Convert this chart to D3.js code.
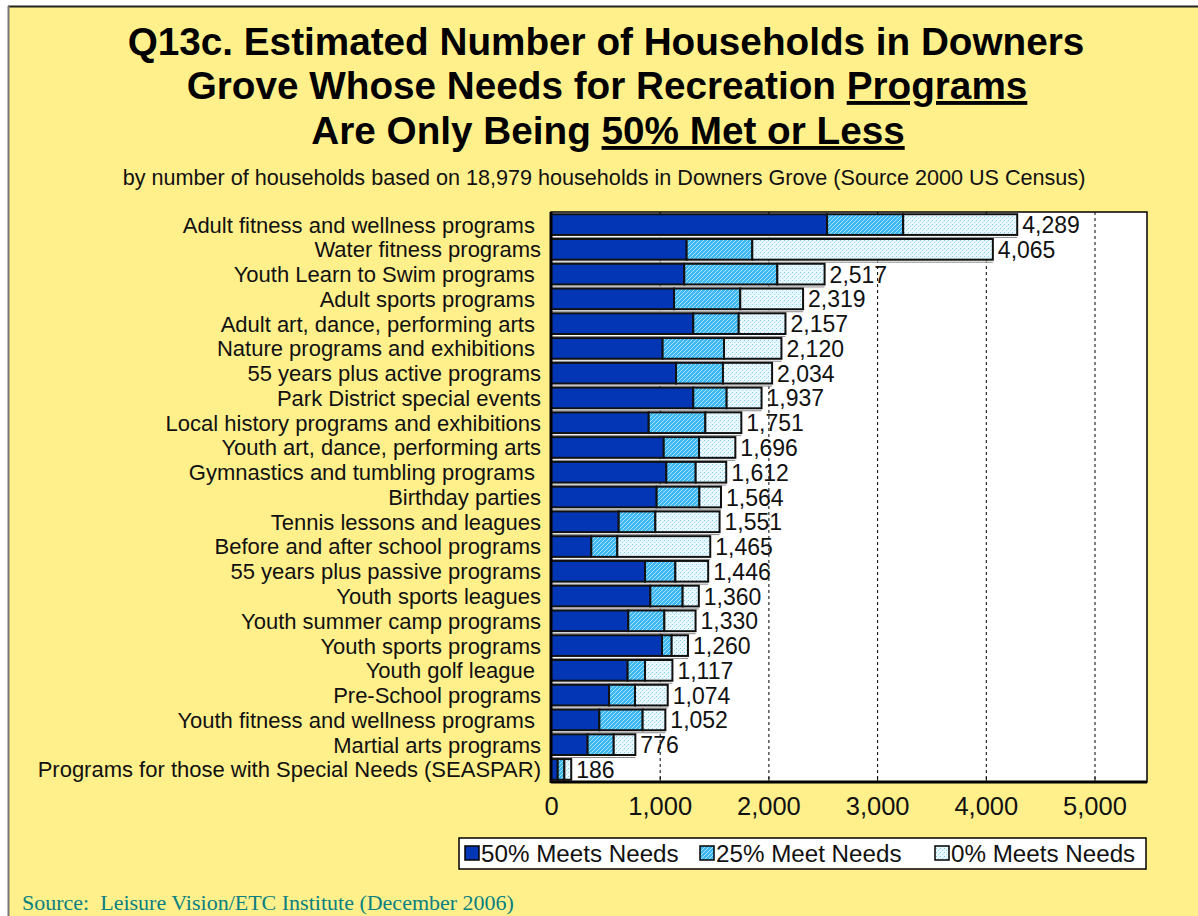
<!DOCTYPE html>
<html><head><meta charset="utf-8">
<script src="https://cdn.jsdelivr.net/npm/d3@7"></script>
<style>html,body{margin:0;padding:0;background:#fff;}svg{display:block;}</style>
</head><body>
<svg id="chart" width="1198" height="916"></svg>
<script>
const categories = [
  "Adult fitness and wellness programs ",
  "Water fitness programs",
  "Youth Learn to Swim programs ",
  "Adult sports programs ",
  "Adult art, dance, performing arts ",
  "Nature programs and exhibitions ",
  "55 years plus active programs",
  "Park District special events",
  "Local history programs and exhibitions",
  "Youth art, dance, performing arts",
  "Gymnastics and tumbling programs ",
  "Birthday parties",
  "Tennis lessons and leagues",
  "Before and after school programs",
  "55 years plus passive programs",
  "Youth sports leagues",
  "Youth summer camp programs",
  "Youth sports programs",
  "Youth golf league ",
  "Pre-School programs",
  "Youth fitness and wellness programs ",
  "Martial arts programs",
  "Programs for those with Special Needs (SEASPAR)"
];
const meets50 = [2540, 1248, 1226, 1132, 1309, 1027, 1150, 1309, 899, 1037, 1061, 972, 623, 371, 865, 914, 711, 1021, 705, 534, 445, 337, 62];
const meets25 = [700, 604, 856, 609, 418, 565, 432, 307, 521, 325, 270, 393, 337, 239, 279, 297, 332, 89, 160, 239, 398, 240, 61];
const totals  = [4289, 4065, 2517, 2319, 2157, 2120, 2034, 1937, 1751, 1696, 1612, 1564, 1551, 1465, 1446, 1360, 1330, 1260, 1117, 1074, 1052, 776, 186];
const meets0 = totals.map((t, i) => t - meets50[i] - meets25[i]);
const seriesNames = ["50% Meets Needs", "25% Meet Needs", "0% Meets Needs"];
const xTicks = [0, 1000, 2000, 3000, 4000, 5000];

const svg = d3.select("#chart");
const W = 1198, H = 916;
const FONT = "Liberation Sans, Arial, sans-serif";

// background
svg.append("rect").attr("x", 0).attr("y", 0).attr("width", W).attr("height", H).attr("fill", "#fff");
svg.append("rect").attr("x", 8).attr("y", 6).attr("width", W - 8).attr("height", H - 6).attr("fill", "#FFF08C");
svg.append("line").attr("x1", 8).attr("x2", W).attr("y1", 6.5).attr("y2", 6.5).attr("stroke", "#222").attr("stroke-width", 2);
svg.append("line").attr("x1", 8.5).attr("x2", 8.5).attr("y1", 6).attr("y2", H).attr("stroke", "#777").attr("stroke-width", 2);

// patterns
const defs = svg.append("defs");
const hatch = defs.append("pattern").attr("id", "hatch").attr("patternUnits", "userSpaceOnUse")
  .attr("width", 4).attr("height", 4);
hatch.append("rect").attr("width", 4).attr("height", 4).attr("fill", "#3DB8F5");
hatch.append("path").attr("d", "M-1,1 l2,-2 M0,4 l4,-4 M3,5 l2,-2").attr("stroke", "#A8E2FF").attr("stroke-width", 1);
const dots = defs.append("pattern").attr("id", "dots").attr("patternUnits", "userSpaceOnUse")
  .attr("width", 4).attr("height", 4);
dots.append("rect").attr("width", 4).attr("height", 4).attr("fill", "#EAF8FF");
dots.append("rect").attr("x", 0).attr("y", 0).attr("width", 1).attr("height", 1).attr("fill", "#7CCBF0");
dots.append("rect").attr("x", 2).attr("y", 2).attr("width", 1).attr("height", 1).attr("fill", "#9ED8F5");
dots.append("rect").attr("x", 3).attr("y", 1).attr("width", 1).attr("height", 1).attr("fill", "#C8EBFB");
const fills = ["#0336B4", "url(#hatch)", "url(#dots)"];

// title
const title = svg.append("text").attr("text-anchor", "middle")
  .attr("font-family", FONT).attr("font-weight", "bold")
  .attr("font-size", 38.7).attr("fill", "#000");
title.append("tspan").attr("x", 606).attr("y", 55).text("Q13c. Estimated Number of Households in Downers");
const t2 = title.append("tspan").attr("x", 607).attr("y", 99);
t2.append("tspan").text("Grove Whose Needs for Recreation ");
t2.append("tspan").attr("text-decoration", "underline").text("Programs");
const t3 = title.append("tspan").attr("x", 608).attr("y", 144);
t3.append("tspan").text("Are Only Being ");
t3.append("tspan").attr("text-decoration", "underline").text("50% Met or Less");

svg.append("text").attr("x", 604).attr("y", 185).attr("text-anchor", "middle")
  .attr("font-family", FONT).attr("font-size", 21.6).attr("fill", "#111")
  .text("by number of households based on 18,979 households in Downers Grove (Source 2000 US Census)");

// plot area
const plotL = 551, plotR = 1147, plotT = 212, plotB = 782;
const x = d3.scaleLinear().domain([0, 5000]).range([plotL, 1094.5]);
const y = d3.scaleBand().domain(categories).range([plotT, plotB]).paddingInner(0.164).paddingOuter(0.09);

svg.append("rect").attr("x", plotL).attr("y", plotT).attr("width", plotR - plotL).attr("height", plotB - plotT)
  .attr("fill", "#fff");

// gridlines
svg.append("g").selectAll("line").data(xTicks.slice(1)).join("line")
  .attr("x1", d => x(d) + 0.5).attr("x2", d => x(d) + 0.5)
  .attr("y1", plotT).attr("y2", plotB)
  .attr("stroke", "#000").attr("stroke-width", 1).attr("stroke-dasharray", "3,3");

// bars
const stackData = categories.map((c, i) => ({cat: c, v: [meets50[i], meets25[i], meets0[i]], total: totals[i]}));
const barG = svg.append("g");
stackData.forEach(d => {
  const y0 = y(d.cat), h = y.bandwidth();
  barG.append("line").attr("x1", x(0)).attr("x2", x(d.total)).attr("y1", y0 + h + 1.5).attr("y2", y0 + h + 1.5)
    .attr("stroke", "#fff").attr("stroke-width", 1);
  barG.append("line").attr("x1", x(0)).attr("x2", x(d.total)).attr("y1", y0 + h + 2.5).attr("y2", y0 + h + 2.5)
    .attr("stroke", "#8a8a8a").attr("stroke-width", 1);
  let acc = 0;
  d.v.forEach((val, k) => {
    barG.append("rect")
      .attr("x", x(acc)).attr("y", y0).attr("width", x(acc + val) - x(acc)).attr("height", h)
      .attr("fill", fills[k]).attr("stroke", "#111").attr("stroke-width", 2);
    acc += val;
  });
});

// value labels
svg.append("g").selectAll("text").data(stackData).join("text")
  .attr("x", d => x(d.total) + 5).attr("y", d => y(d.cat) + y.bandwidth() / 2 + 8.5)
  .attr("font-family", FONT).attr("font-size", 23).attr("fill", "#111")
  .text(d => d3.format(",")(d.total));

// plot border
svg.append("rect").attr("x", plotL).attr("y", plotT).attr("width", plotR - plotL).attr("height", plotB - plotT)
  .attr("fill", "none").attr("stroke", "#000").attr("stroke-width", 1.5);
svg.append("line").attr("x1", plotL).attr("x2", plotL).attr("y1", plotT).attr("y2", plotB + 1)
  .attr("stroke", "#000").attr("stroke-width", 3);
svg.append("line").attr("x1", plotL).attr("x2", plotR).attr("y1", plotB).attr("y2", plotB)
  .attr("stroke", "#000").attr("stroke-width", 3);

// x axis
const xAxis = d3.axisBottom(x).tickValues(xTicks).tickFormat(d3.format(",")).tickSize(-5).tickPadding(15);
const ax = svg.append("g").attr("transform", `translate(0,${plotB})`).call(xAxis);
ax.select(".domain").remove();
ax.selectAll("line").attr("stroke", "#000");
ax.selectAll("text").attr("font-family", FONT).attr("font-size", 25.5).attr("fill", "#111");

// y axis labels
const yAxis = d3.axisLeft(y).tickSize(0).tickPadding(10);
const ay = svg.append("g").attr("transform", `translate(${plotL},0)`).call(yAxis);
ay.select(".domain").remove();
ay.selectAll("text").attr("font-family", FONT).attr("font-size", 22).attr("fill", "#111")
  .attr("dy", "0.36em").style("white-space", "pre").attr("xml:space", "preserve");

// legend
const lg = svg.append("g");
lg.append("rect").attr("x", 459).attr("y", 838).attr("width", 687).attr("height", 31)
  .attr("fill", "#fff").attr("stroke", "#000").attr("stroke-width", 1.5);
const legX = [465, 700, 935];
seriesNames.forEach((n, k) => {
  lg.append("rect").attr("x", legX[k]).attr("y", 846).attr("width", 14).attr("height", 14)
    .attr("fill", fills[k]).attr("stroke", "#000").attr("stroke-width", 1.5);
  lg.append("text").attr("x", legX[k] + 16).attr("y", 862)
    .attr("font-family", FONT).attr("font-size", 24.2).attr("fill", "#111").text(n);
});

// source
svg.append("text").attr("x", 22).attr("y", 910)
  .attr("font-family", "Liberation Serif, Times New Roman, serif").attr("font-size", 22).attr("fill", "#0A7F80")
  .style("white-space", "pre").attr("xml:space", "preserve")
  .text("Source:  Leisure Vision/ETC Institute (December 2006)");
</script>
</body></html>
